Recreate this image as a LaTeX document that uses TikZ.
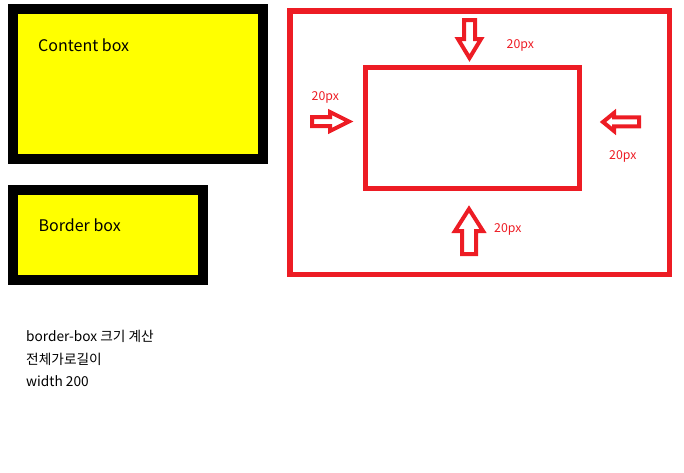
\documentclass[tikz,border=0pt]{standalone}
\usepackage{fontspec}
\setmainfont{Noto Sans CJK KR}
\definecolor{pred}{HTML}{ED1C24}
\definecolor{pyel}{HTML}{FFFF00}
\tikzset{
  ybox/.style={draw=black, fill=pyel, line width=10pt, inner sep=0pt, minimum width=#1},
  redbox/.style={draw=pred, line width=5pt, inner sep=0pt},
  blockarrow/.style={draw=pred, fill=white, line width=4pt, line join=miter},
  lbl/.style={anchor=base west, inner sep=0pt, font=\fontsize{16}{19}\selectfont},
  pxlbl/.style={anchor=base west, inner sep=0pt, text=pred, font=\fontsize{12.3}{14}\selectfont},
  note/.style={anchor=base west, inner sep=0pt, font=\fontsize{13.7}{16}\selectfont}
}
\begin{document}
\begin{tikzpicture}[x=1pt,y=-1pt]
\useasboundingbox (0,0) rectangle (684,472);
% yellow boxes
\node[ybox=250pt, minimum height=150pt] (content) at (138,84) {};
\node[lbl] (contentlbl) at (38,51.5) {Content box};
\node[ybox=190pt, minimum height=90pt] (border) at (108,235) {};
\node[lbl] (borderlbl) at (38.5,231.5) {Border box};
% red boxes
\node[redbox, line width=5.5pt, minimum width=379.5pt, minimum height=263.5pt] (outer) at (479.5,142.5) {};
\node[redbox, minimum width=214pt, minimum height=121pt] (inner) at (472.5,128) {};
% block arrows
\draw[blockarrow] (464,20) -- (475,20) -- (475,39) -- (481,39) -- (469.5,58) -- (458,39) -- (464,39) -- cycle;
\draw[blockarrow] (462,254) -- (476,254) -- (476,231) -- (483,231) -- (469,209) -- (455,231) -- (462,231) -- cycle;
\draw[blockarrow] (312,117) -- (330,117) -- (330,112) -- (349,121.5) -- (330,131) -- (330,126) -- (312,126) -- cycle;
\draw[blockarrow] (639,117.3) -- (614,117.3) -- (614,113) -- (603,122) -- (614,131) -- (614,126.3) -- (639,126.3) -- cycle;
% px labels
\node[pxlbl] (ptop) at (506.5,48) {20px};
\node[pxlbl] (pleft) at (311.5,100) {20px};
\node[pxlbl] (pright) at (609,159) {20px};
\node[pxlbl] (pbottom) at (494,232.5) {20px};
% notes
\node[note] (n1) at (26,341.5) {border-box 크기 계산};
\node[note] (n2) at (26,364) {전체가로길이};
\node[note] (n3) at (26,386.5) {width 200};
\end{tikzpicture}
\end{document}
